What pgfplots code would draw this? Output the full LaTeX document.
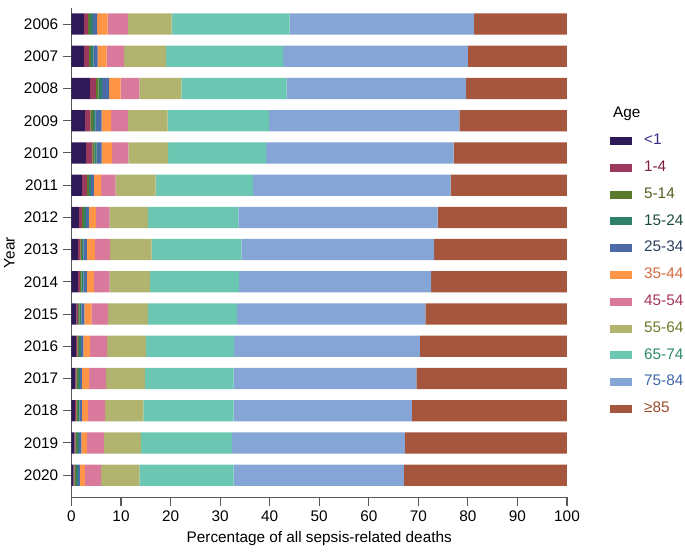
\documentclass[border=0pt]{standalone}
\usepackage{fontspec}
\setmainfont{Liberation Sans}
\usepackage{pgfplots}
\usepackage{pgfplotstable}
\pgfplotsset{compat=1.18}
\definecolor{c1}{HTML}{2E1A57}
\definecolor{c2}{HTML}{9B3A5E}
\definecolor{c3}{HTML}{5B7A2B}
\definecolor{c4}{HTML}{2E806A}
\definecolor{c5}{HTML}{4A6BA6}
\definecolor{c6}{HTML}{FF9547}
\definecolor{c7}{HTML}{D97A9C}
\definecolor{c8}{HTML}{B0B46E}
\definecolor{c9}{HTML}{6CC7B2}
\definecolor{c10}{HTML}{84A5D5}
\definecolor{c11}{HTML}{A5563D}
\definecolor{t1}{HTML}{3B2A80}
\definecolor{t2}{HTML}{7B1E3C}
\definecolor{t3}{HTML}{4F6220}
\definecolor{t4}{HTML}{1E4D3A}
\definecolor{t5}{HTML}{2C3E5E}
\definecolor{t6}{HTML}{D2693E}
\definecolor{t7}{HTML}{A6355A}
\definecolor{t8}{HTML}{6D7B2B}
\definecolor{t9}{HTML}{2E8A6C}
\definecolor{t10}{HTML}{3F67A8}
\definecolor{t11}{HTML}{9C4B2C}
\pgfplotsset{mylegend/.style={legend image code/.code={\fill[##1] (0pt,-3pt) rectangle (16.5pt,3pt);}}}
\pgfplotstableread{
y a b c d e f g h i j k
14 2.5 0.8 0.4 0.6 0.9 2.1 4.1 8.8 23.8 37.2 18.8
13 2.5 1.0 0.4 0.5 0.9 1.8 3.5 8.5 23.6 37.3 20.0
12 3.7 1.2 0.6 0.7 1.4 2.3 3.8 8.5 21.2 36.2 20.4
11 2.7 1.1 0.5 0.5 1.3 1.9 3.4 8.0 20.5 38.4 21.7
10 2.9 1.3 0.4 0.5 1.0 2.1 3.3 8.0 19.8 37.8 22.9
9 2.1 1.0 0.4 0.4 0.6 1.5 2.9 8.1 19.6 39.9 23.5
8 1.5 0.6 0.4 0.4 0.6 1.4 2.8 7.7 18.3 40.2 26.1
7 1.3 0.5 0.3 0.3 0.7 1.6 3.1 8.4 18.1 38.9 26.8
6 1.3 0.4 0.3 0.4 0.7 1.4 3.2 8.1 18.0 38.8 27.4
5 1.0 0.3 0.3 0.4 0.6 1.4 3.4 8.0 18.0 38.0 28.6
4 0.9 0.3 0.3 0.4 0.5 1.3 3.5 7.8 17.8 37.5 29.7
3 0.8 0.2 0.3 0.4 0.4 1.4 3.5 7.8 17.9 36.9 30.4
2 0.7 0.3 0.3 0.3 0.5 1.2 3.5 7.7 18.2 36.0 31.3
1 0.6 0.2 0.3 0.4 0.5 1.1 3.5 7.4 18.4 34.9 32.7
0 0.4 0.2 0.3 0.4 0.4 1.0 3.3 7.7 19.0 34.4 32.9
}\data
\begin{document}
\begin{tikzpicture}
\begin{axis}[
  name=ax,
  scale only axis,
  width=371.6pt, height=366.75pt,
  xbar stacked,
  bar width=0.66,
  xmin=0, xmax=100,
  ymin=-0.68, ymax=14.5,
  ytick={0,...,14},
  yticklabels={2020,2019,2018,2017,2016,2015,2014,2013,2012,2011,2010,2009,2008,2007,2006},
  xtick={0,10,...,100},
  axis x line*=bottom, axis y line*=left,
  axis line style={draw=black!65, line width=0.8pt},
  every tick/.style={black!65, line width=0.8pt},
  tick align=outside,
  major tick length=6.5pt,
  font=\fontsize{11.5}{13.5}\selectfont,
  /pgf/number format/assume math mode=true,
  xlabel={Percentage of all sepsis-related deaths},
  ylabel={Year},
  xlabel style={yshift=-1pt},
  legend style={at={(1.087,0.80)}, anchor=north west, draw=none, fill=none,
    inner sep=0pt, outer sep=0pt, row sep=7.6pt, column sep=8pt,
    font=\fontsize{11.5}{13.5}\selectfont,
    nodes={inner sep=1pt, text height=8pt, text depth=2.5pt},
    cells={anchor=west}},
]
\addlegendimage{empty legend}
\addlegendentry{\hspace*{-25pt}Age}
\addplot[fill=c1, draw=none, mylegend] table[x=a, y=y] {\data};
\addlegendentry{\textcolor{t1}{<1}}
\addplot[fill=c2, draw=none, mylegend] table[x=b, y=y] {\data};
\addlegendentry{\textcolor{t2}{1-4}}
\addplot[fill=c3, draw=none, mylegend] table[x=c, y=y] {\data};
\addlegendentry{\textcolor{t3}{5-14}}
\addplot[fill=c4, draw=none, mylegend] table[x=d, y=y] {\data};
\addlegendentry{\textcolor{t4}{15-24}}
\addplot[fill=c5, draw=none, mylegend] table[x=e, y=y] {\data};
\addlegendentry{\textcolor{t5}{25-34}}
\addplot[fill=c6, draw=none, mylegend] table[x=f, y=y] {\data};
\addlegendentry{\textcolor{t6}{35-44}}
\addplot[fill=c7, draw=none, mylegend] table[x=g, y=y] {\data};
\addlegendentry{\textcolor{t7}{45-54}}
\addplot[fill=c8, draw=none, mylegend] table[x=h, y=y] {\data};
\addlegendentry{\textcolor{t8}{55-64}}
\addplot[fill=c9, draw=none, mylegend] table[x=i, y=y] {\data};
\addlegendentry{\textcolor{t9}{65-74}}
\addplot[fill=c10, draw=none, mylegend] table[x=j, y=y] {\data};
\addlegendentry{\textcolor{t10}{75-84}}
\addplot[fill=c11, draw=none, mylegend] table[x=k, y=y] {\data};
\addlegendentry{\textcolor{t11}{≥85}}
\end{axis}
\pgfresetboundingbox
\path[use as bounding box] ([shift={(-53.6pt,-40.5pt)}]ax.south west) rectangle ([shift={(88.5pt,6pt)}]ax.north east);
\end{tikzpicture}
\end{document}
